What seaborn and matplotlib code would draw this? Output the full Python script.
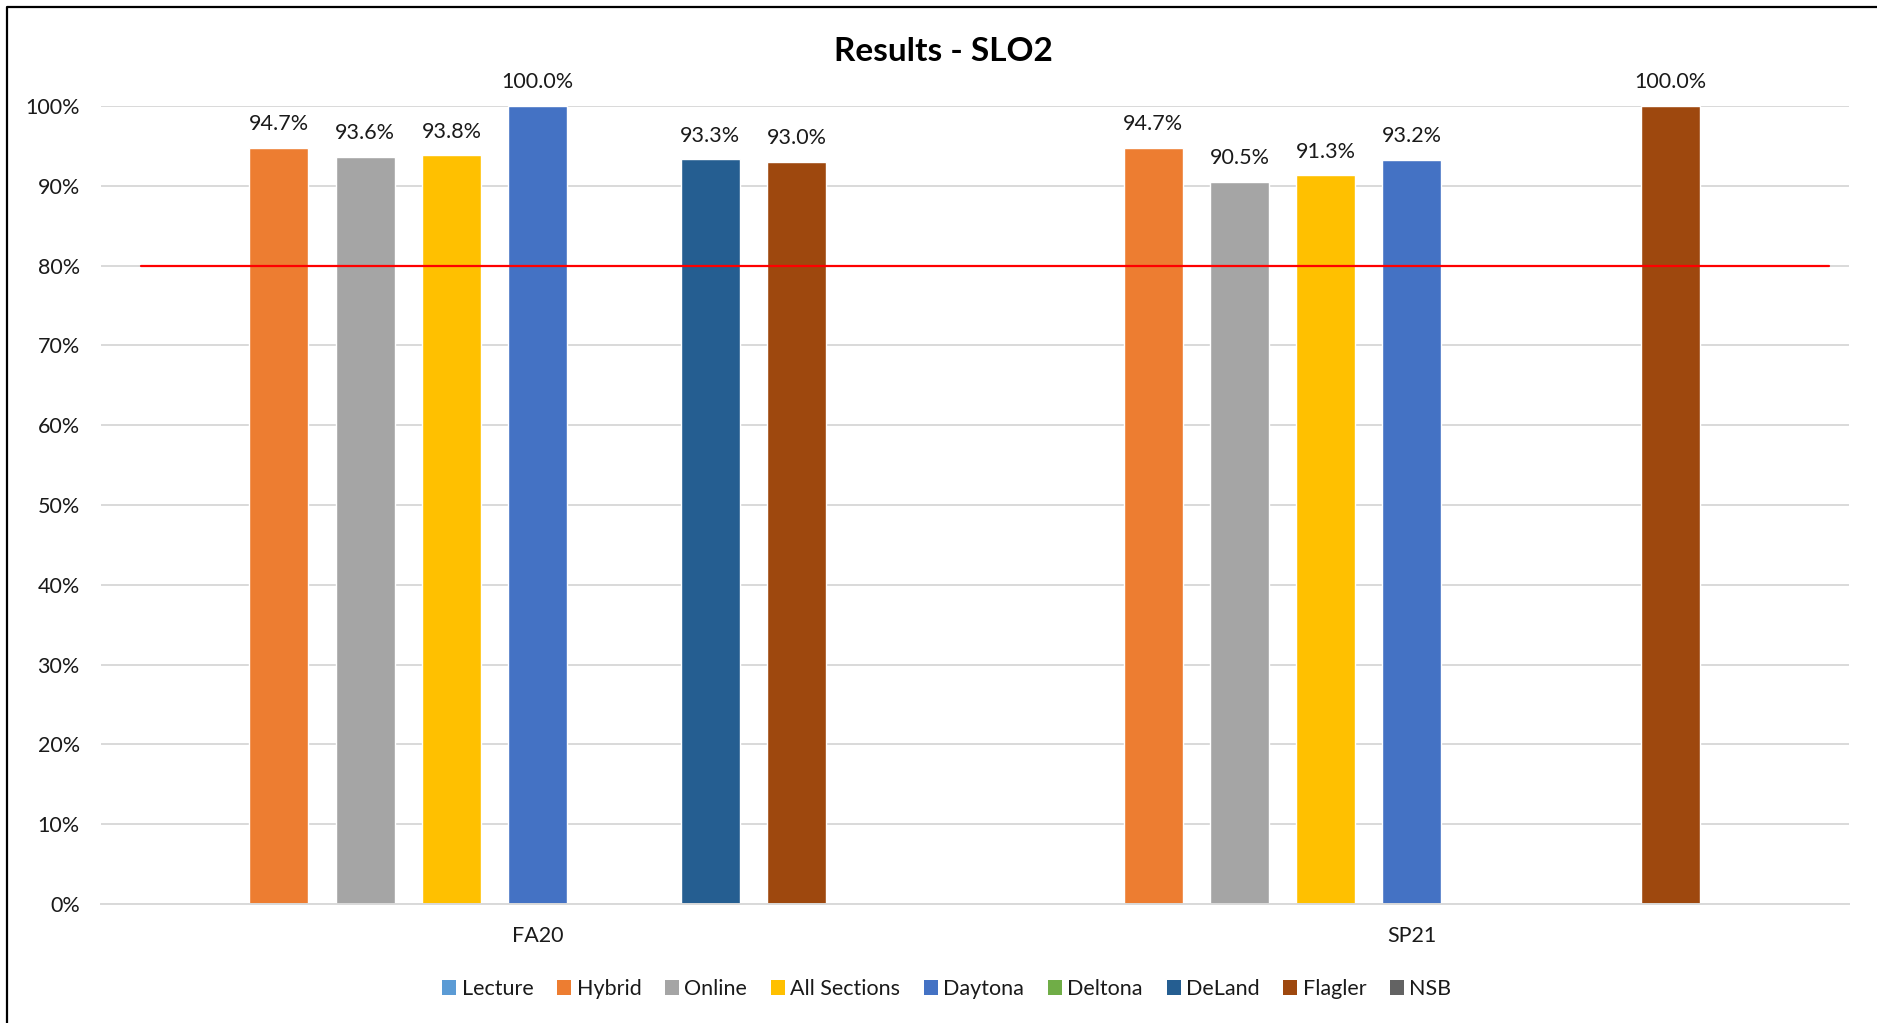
import matplotlib
matplotlib.use("Agg")
import matplotlib.pyplot as plt
from matplotlib.patches import Patch
from matplotlib.lines import Line2D
from matplotlib.ticker import PercentFormatter
import seaborn as sns
import numpy as np
import pandas as pd

# data
terms = ["FA20", "SP21"]
series = ["Lecture", "Hybrid", "Online", "All Sections", "Daytona",
          "Deltona", "DeLand", "Flagler", "NSB"]
lecture = [np.nan, np.nan]
hybrid = [0.947, 0.947]
online = [0.936, 0.905]
all_sections = [0.938, 0.913]
daytona = [1.000, 0.932]
deltona = [np.nan, np.nan]
deland = [0.933, np.nan]
flagler = [0.930, 1.000]
nsb = [np.nan, np.nan]
target = 0.80
yticks = [0.0, 0.1, 0.2, 0.3, 0.4, 0.5, 0.6, 0.7, 0.8, 0.9, 1.0]
colors = ["#5B9BD5", "#ED7D31", "#A5A5A5", "#FFC000", "#4472C4",
          "#70AD47", "#255E91", "#9E480E", "#636363"]

values = [lecture, hybrid, online, all_sections, daytona, deltona, deland, flagler, nsb]
rows = []
for name, vals in zip(series, values):
    for term, v in zip(terms, vals):
        rows.append({"term": term, "series": name, "value": v})
df = pd.DataFrame(rows).dropna()
palette = dict(zip(series, colors))

sns.set_theme(style="white")
plt.rcParams["font.family"] = ["Lato", "DejaVu Sans"]

fig = plt.figure(figsize=(18.77, 10.23), dpi=100)
ax = fig.add_axes([0.0536, 0.1163, 0.9315, 0.7801])

sns.barplot(data=df, x="term", y="value", hue="series", hue_order=series,
            order=terms, palette=palette, width=0.888, gap=0.316,
            saturation=1, errorbar=None, legend=False, ax=ax)

for c in ax.containers:
    labels = [f"{b.get_height() * 100:.1f}%" for b in c]
    ax.bar_label(c, labels=labels, padding=10, fontsize=15.5, color="#1a1a1a")

ax.axhline(target, xmin=0.0229, xmax=0.9888, color="#FF0000", lw=1.6, zorder=5)

ax.set_ylim(0, 1)
ax.set_xlim(-0.5, 1.5)
ax.set_yticks(yticks)
ax.yaxis.set_major_formatter(PercentFormatter(1.0, decimals=0))
ax.yaxis.grid(True, color="#D9D9D9", lw=1.4)
ax.set_axisbelow(True)
for s in ["top", "right", "left"]:
    ax.spines[s].set_visible(False)
ax.spines["bottom"].set_color("#D9D9D9")
ax.spines["bottom"].set_linewidth(1.4)
ax.tick_params(axis="both", length=0, labelsize=15.5, colors="#1a1a1a")
ax.tick_params(axis="y", pad=15)
ax.tick_params(axis="x", pad=16)
ax.set_xlabel("")
ax.set_ylabel("")

fig.text(0.5025, 0.9497, "Results - SLO2", ha="center", va="center",
         fontsize=24, fontweight="bold", color="#000000")

handles = [Patch(facecolor=palette[s], edgecolor="none", label=s) for s in series]
fig.legend(handles=handles, loc="center", bbox_to_anchor=(0.5045, 0.0333),
           ncol=len(series), frameon=False, fontsize=15.5, handlelength=0.65,
           handleheight=0.65, handletextpad=0.25, columnspacing=1.1,
           labelcolor="#1a1a1a")

# chart frame (left and top edges are visible in the reference)
fx = 7 / 1877
fy = 1 - 7 / 1023
fig.add_artist(Line2D([fx, fx, 1.0], [0.0, fy, fy], transform=fig.transFigure,
                      color="black", lw=1.6))

fig.savefig("out.png", dpi=100)
